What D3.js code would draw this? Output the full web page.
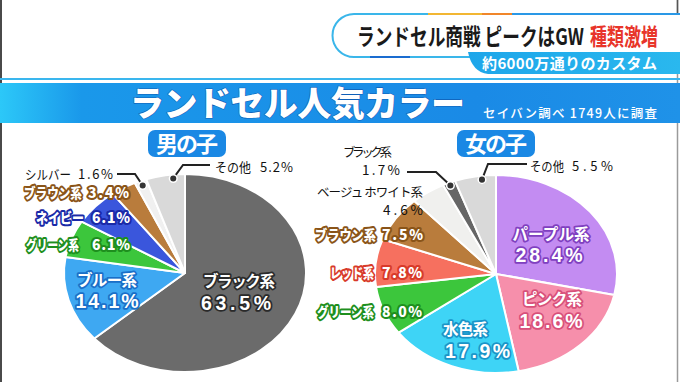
<!DOCTYPE html>
<html><head><meta charset="utf-8">
<script src="https://cdn.jsdelivr.net/npm/d3@7"></script>
<style>
html,body{margin:0;padding:0;background:#fff;}
svg{display:block;font-family:"Noto Sans CJK JP","Noto Sans",sans-serif;}
</style></head>
<body>
<svg id="c" width="680" height="382"></svg>
<script>
// ---- data ----
const boyCategories = ["ブラック系","ブルー系","グリーン系","ネイビー","ブラウン系","シルバー","その他"];
const boyValues = [63.5,14.1,6.1,6.1,3.4,1.6,5.2];
const girlCategories = ["パープル系","ピンク系","水色系","グリーン系","レッド系","ブラウン系","ベージュ ホワイト系","ブラック系","その他"];
const girlValues = [28.4,18.6,17.9,8.0,7.8,7.5,4.6,1.7,5.5];
const headline = "ランドセル商戦 ピークはGW";
const headlineRed = "種類激増";
const subline = "約6000万通りのカスタム";
const title = "ランドセル人気カラー";
const source = "セイバン調べ 1749人に調査";
const groupLabels = ["男の子","女の子"];

// ---- styles ----
const boyColors = ["#6b6b6b","#3ea8f2","#3cc63c","#3a56dc","#b97c3c","#f0f0f0","#d9d9d9"];
const girlColors = ["#c38cf2","#f68fab","#3ed4f6","#3cc63c","#f6705f","#b97c3c","#f0f0ee","#666666","#d9d9d9"];
const boyStroke = ["#2a2a2a","#1a6fc8","#1e8f1e","#1a2aa8","#8a5418",null,null];
const girlStroke = ["#8040c0","#d8507a","#1a94c8","#1e8f1e","#d83a2a","#8a5418",null,null,null];
const numFont = "'Liberation Sans', Arial, sans-serif";

// label layout: name spec l1 and value spec l2 = [x, baseline y, width, font size, anchor]
const boyLayout = [
  {kind:"in", l1:[239,287,72,15.5,"middle"], l2:[236,309.5,70,19.5,"middle"]},
  {kind:"in", l1:[107,286,60,15.5,"middle"], l2:[107,307.5,63,19.5,"middle"]},
  {kind:"col", l1:[26,250,53,14,"start"], l2:[92,250,38,14,"start"]},
  {kind:"col", l1:[36,223,48,14,"start"], l2:[92,223,38,14,"start"]},
  {kind:"col", l1:[24,198,58,14,"start"], l2:[88,198,41,14,"start"]},
  {kind:"pl", l1:[25,179,46,13,"start"], l2:[78,179,35,13,"start"], lead:[[117,174],[135,174]], t:0.5, f:0.95},
  {kind:"pl", l1:[215,172,36,13,"start"], l2:[260,172,33,13,"start"], lead:[[210,165],[183,165]], t:0.69, f:0.96}
];
const girlLayout = [
  {kind:"in", l1:[551,240,77,15.5,"middle"], l2:[549,261.5,67,19.5,"middle"]},
  {kind:"in", l1:[552,305,60,15.5,"middle"], l2:[551,327.5,63,19.5,"middle"]},
  {kind:"in", l1:[443,335,45,15.5,"start"], l2:[445,357.5,65,19.5,"start"]},
  {kind:"col", l1:[317,317,57,14,"start"], l2:[382,317,40,14,"start"]},
  {kind:"col", l1:[330,278,44,14,"start"], l2:[382,278,40,14,"start"]},
  {kind:"col", l1:[315,240,61,14,"start"], l2:[382,240,41,14,"start"]},
  {kind:"pl2", l1:[423,197,106,12.5,"end"], l2:[423,215,40,13.5,"end"]},
  {kind:"pl2", l1:[343,157,49,12.5,"start"], l2:[400,175,38,13.5,"end"], lead:[[407,172],[436,172]], t:0.5, f:0.97},
  {kind:"pl", l1:[530,171,34,13,"start"], l2:[572,171,41,13,"start"], lead:[[527,164],[488,164]], t:0.65, f:0.96}
];

const svg = d3.select("#c");
const defs = svg.append("defs");
const gBand = defs.append("linearGradient").attr("id","band").attr("x1","0").attr("x2","1");
gBand.append("stop").attr("offset","0").attr("stop-color","#2cc8f8");
gBand.append("stop").attr("offset","0.12").attr("stop-color","#1a98ea");
gBand.append("stop").attr("offset","0.7").attr("stop-color","#1a8ae6");
gBand.append("stop").attr("offset","1").attr("stop-color","#1f92e8");
const gSub = defs.append("linearGradient").attr("id","sub").attr("x1","0").attr("x2","1");
gSub.append("stop").attr("offset","0").attr("stop-color","#1ea6ea");
gSub.append("stop").attr("offset","1").attr("stop-color","#2ab8ee");

// measure natural width
function measure(str, size, weight, family){
  const t = svg.append("text").attr("font-size",size).attr("font-weight",weight).text(str);
  if(family) t.attr("font-family",family);
  const w = t.node().getComputedTextLength();
  t.remove();
  return w;
}
function styleText(t, opts){
  t.attr("font-weight",opts.weight||400).attr("fill",opts.fill||"#111");
  if(opts.stroke){
    t.attr("stroke",opts.stroke).attr("stroke-width",opts.sw||3).attr("stroke-linejoin","round")
     .attr("paint-order","stroke");
  }
  return t;
}
// one text element, one or more lines (tspans), widths matched by letter-spacing
function txt(lines, opts){
  const weight = opts.weight||400;
  const t = styleText(svg.append("text"), opts);
  lines.forEach(([str,spec,family])=>{
    const [x,y,w,size,anchor] = spec;
    const nat = measure(str,size,weight,family);
    const n = Array.from(str).length;
    const ls = n>1 ? (w-nat)/(n-1) : 0;
    const x0 = anchor==="start" ? x : anchor==="middle" ? x-w/2 : x-w;
    const ts = t.append("tspan").attr("x",x0).attr("y",y).attr("font-size",size)
      .attr("letter-spacing",ls.toFixed(2)).text(str);
    if(family) ts.attr("font-family",family);
  });
  return t;
}
// single text fitted to width: condensed by scaling when too wide, spaced when narrower
function part(str, spec, opts){
  const [x,y,w,size,anchor] = spec;
  const weight = opts.weight||400;
  const nat = measure(str,size,weight);
  const x0 = anchor==="start" ? x : anchor==="middle" ? x-w/2 : x-w;
  const t = styleText(svg.append("text"), opts).attr("font-size",size).text(str);
  if(nat > w){
    t.attr("transform",`translate(${x0},${y}) scale(${(w/nat).toFixed(4)},1)`);
  } else {
    const n = Array.from(str).length;
    t.attr("x",x0).attr("y",y).attr("letter-spacing",(n>1?(w-nat)/(n-1):0).toFixed(2));
  }
  return t;
}

// frame lines
svg.append("line").attr("x1",1).attr("x2",1).attr("y1",0).attr("y2",382).attr("stroke","#4a4a4a").attr("stroke-width",2);
svg.append("line").attr("x1",677.5).attr("x2",677.5).attr("y1",0).attr("y2",382).attr("stroke","#9a9a9a").attr("stroke-width",1.5);

// header box
svg.append("path").attr("d","M681,14 L354,14 A21.5,21.5 0 0 0 354,57 L681,57")
  .attr("fill","#fff").attr("stroke","#3ab6ea").attr("stroke-width",2);
svg.append("line").attr("x1",428).attr("x2",482).attr("y1",14).attr("y2",14).attr("stroke","#f2b632").attr("stroke-width",2);
svg.append("line").attr("x1",482).attr("x2",512).attr("y1",14).attr("y2",14).attr("stroke","#f0862a").attr("stroke-width",2);
svg.append("line").attr("x1",512).attr("x2",681).attr("y1",14).attr("y2",14).attr("stroke","#2a98e6").attr("stroke-width",2);
svg.append("line").attr("x1",370).attr("x2",410).attr("y1",57).attr("y2",57).attr("stroke","#1a6cd0").attr("stroke-width",2);
svg.append("line").attr("x1",677.5).attr("x2",677.5).attr("y1",0).attr("y2",13).attr("stroke","#555").attr("stroke-width",1.5);

part(headline,[357,45,227,23,"start"],{weight:700,fill:"#1a1a1a"});
part(headlineRed,[590,45,68,23,"start"],{weight:700,fill:"#e8352a"});

// sub banner
svg.append("path").attr("d","M468,52 L681,52 L681,74 L488,74 Q472,72 468,52 Z").attr("fill","url(#sub)");
txt([[subline,[482,69,175,15,"start"]]],{weight:700,fill:"#fff"});

// band
svg.append("line").attr("x1",0).attr("x2",680).attr("y1",79).attr("y2",79).attr("stroke","#3ab6ee").attr("stroke-width",2);
svg.append("rect").attr("x",0).attr("y",83).attr("width",680).attr("height",40).attr("fill","url(#band)");
txt([[title,[130,116,335,34,"start"]]],{weight:900,fill:"#fff",stroke:"#0f5fb8",sw:1.2});
txt([[source,[483,118,174,12.5,"start"]]],{weight:500,fill:"#fff"});

// group labels
[[148,groupLabels[0]],[457,groupLabels[1]]].forEach(([x,s])=>{
  svg.append("rect").attr("x",x).attr("y",130).attr("width",78).attr("height",27).attr("rx",7)
    .attr("fill","#1a88e4");
  txt([[s,[x+39,152,62,22,"middle"]]],{weight:700,fill:"#fff"});
});

// pies
const ry = 99, rx = 121;
function drawPie(cx, cy, cats, vals, colors, strokes, layout){
  const pie = d3.pie().sort(null).value(d=>d)(vals);
  const arc = d3.arc().innerRadius(0).outerRadius(ry);
  const g = svg.append("g").attr("transform",`translate(${cx},${cy}) scale(${rx/ry},1)`);
  g.selectAll("path").data(pie).join("path").attr("d",arc)
    .attr("fill",(d,i)=>colors[i]).attr("stroke","#fff").attr("stroke-width",2)
    .attr("vector-effect","non-scaling-stroke").attr("stroke-linejoin","round");
  pie.forEach((p,i)=>{
    const L = layout[i];
    const pct = vals[i].toFixed(1)+"%";
    if(L.kind==="in"){
      txt([[cats[i],L.l1],[pct,L.l2,numFont]],{weight:700,fill:"#fff",stroke:strokes[i],sw:3.5});
    } else if(L.kind==="col"){
      const o = {weight:900,fill:"#fff",stroke:strokes[i],sw:4};
      part(cats[i],L.l1,o); part(pct,L.l2,o);
    } else if(L.kind==="pl"){
      part(cats[i],L.l1,{weight:400,fill:"#111"}); part(pct,L.l2,{weight:400,fill:"#111"});
    } else {
      txt([[cats[i],L.l1],[pct,L.l2]],{weight:400,fill:"#111"});
    }
    if(L.lead){
      const a = p.startAngle + L.t*(p.endAngle-p.startAngle);
      const dx = cx + rx*L.f*Math.sin(a), dy = cy - ry*L.f*Math.cos(a);
      const pts = [L.lead[0], L.lead[1], [dx,dy]];
      svg.append("path").attr("d",d3.line()(pts)).attr("fill","none").attr("stroke","#222").attr("stroke-width",2);
      svg.append("circle").attr("cx",dx).attr("cy",dy).attr("r",3.8).attr("fill","#333").attr("stroke","#fff").attr("stroke-width",1.5);
    }
  });
}
drawPie(185,273,boyCategories,boyValues,boyColors,boyStroke,boyLayout);
drawPie(496,274,girlCategories,girlValues,girlColors,girlStroke,girlLayout);
</script>
</body></html>
